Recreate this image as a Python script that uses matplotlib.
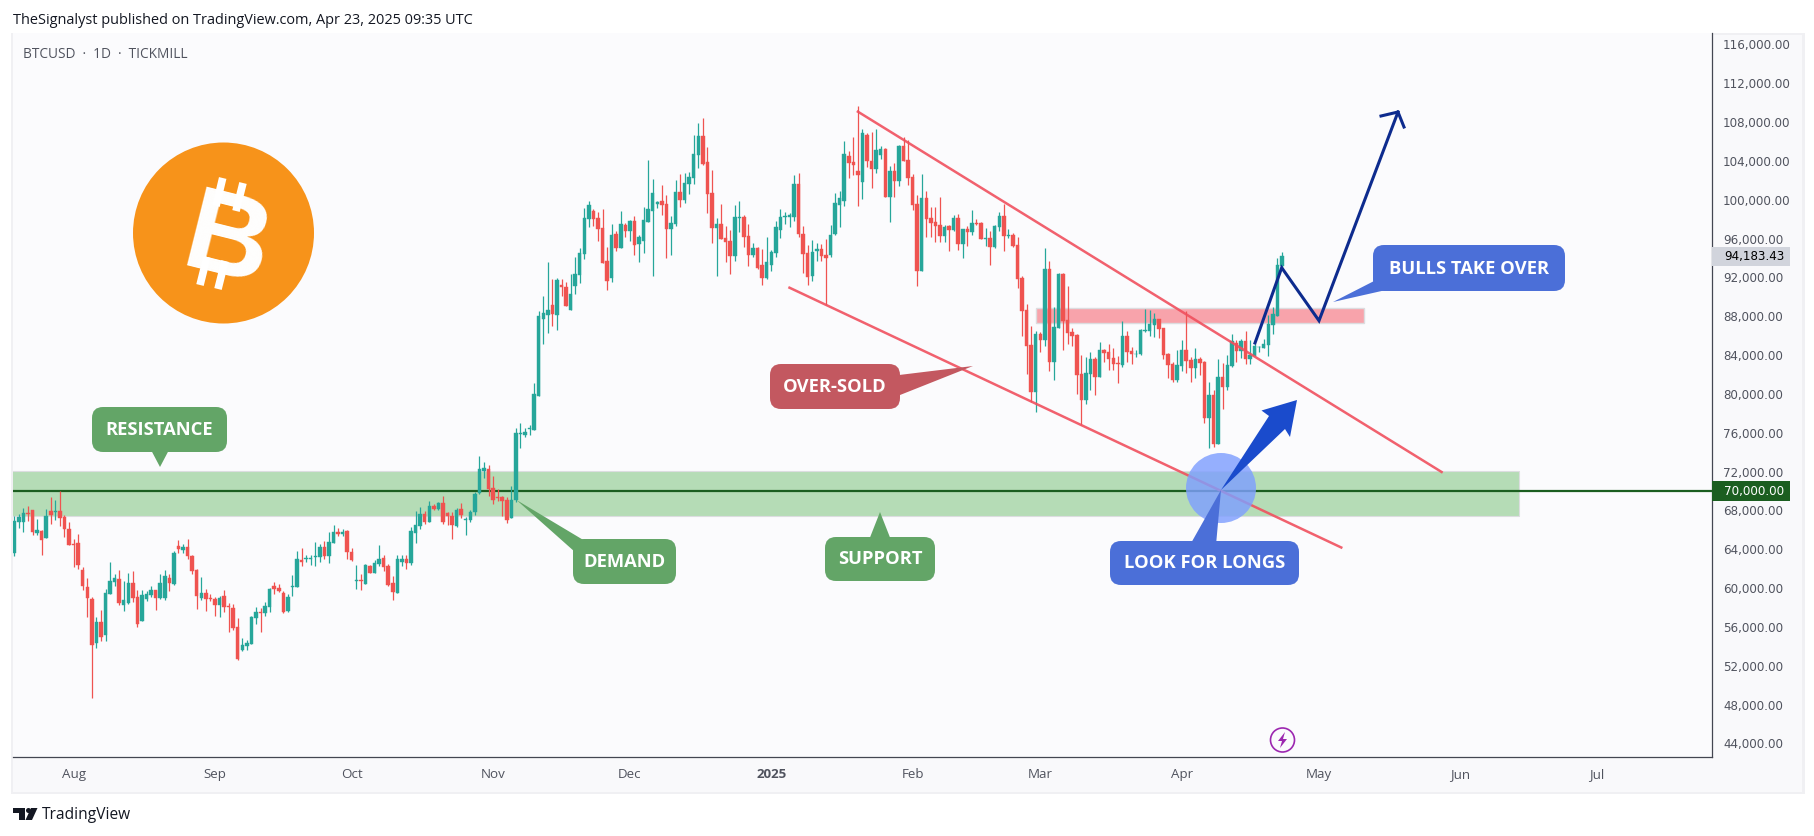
import matplotlib
matplotlib.use("Agg")
import matplotlib.pyplot as plt
import matplotlib.dates as mdates
import pandas as pd
from matplotlib.patches import Circle, FancyBboxPatch, Polygon, Rectangle

# BTCUSD daily candles (thousand USD)
first_day = "2024-07-19"
opens = [
    63.61,66.80,66.80,67.73,68.04,65.67,65.91,65.16,67.94,67.87,
    67.94,67.32,66.08,64.54,64.64,61.86,60.11,58.87,54.34,56.51,
    55.17,59.39,60.63,60.93,58.26,58.46,60.52,59.08,56.61,58.87,
    59.29,59.80,58.98,58.98,61.04,60.42,64.33,63.92,64.23,63.30,
    61.86,58.98,59.49,58.98,58.87,58.26,59.18,58.15,57.95,55.99,
    53.62,54.03,54.24,56.92,57.54,57.43,58.05,60.21,60.01,59.49,
    57.64,60.11,60.11,62.89,62.99,62.99,63.20,63.20,64.23,63.30,
    64.64,65.77,65.57,65.88,63.71,60.76,60.83,60.42,62.27,61.55,
    62.48,63.10,62.27,60.52,59.49,62.68,62.99,62.58,65.67,66.39,
    67.63,66.80,68.45,68.14,68.76,67.73,67.42,66.40,68.15,67.05,
    67.01,67.84,69.79,72.06,72.27,70.31,69.38,69.38,69.07,67.22,
    69.07,75.90,75.77,76.39,76.28,79.78,87.71,88.13,89.16,88.13,
    91.22,91.01,88.64,91.11,92.25,94.41,98.01,98.84,98.12,97.09,
    93.69,91.94,96.47,95.03,97.40,96.78,97.81,95.44,95.75,97.70,
    98.84,99.56,99.87,99.56,96.99,97.50,100.80,99.98,101.62,102.24,
    104.61,106.57,103.89,100.70,97.09,97.50,96.06,95.75,94.21,98.12,
    98.23,96.27,94.31,95.03,93.28,91.94,93.28,94.52,96.89,98.26,
    98.23,98.23,101.62,96.47,94.52,92.15,94.72,94.93,94.31,94.31,
    96.47,99.46,99.87,104.51,103.89,102.96,101.83,106.67,103.99,103.16,
    104.61,105.22,100.28,102.96,101.93,105.53,104.09,102.34,99.56,92.66,
    100.18,98.12,97.71,97.40,96.26,97.29,96.88,98.12,95.44,96.98,
    96.67,97.60,97.60,95.99,96.06,95.13,97.19,98.32,96.30,96.37,
    95.34,91.94,88.64,85.04,80.20,86.17,85.55,92.86,83.29,86.79,
    92.35,87.61,86.37,86.07,82.05,79.37,82.05,83.59,81.74,84.52,
    84.32,83.70,83.18,82.98,85.96,84.42,84.07,84.11,86.48,86.48,
    87.10,87.71,86.79,84.11,83.08,81.43,82.87,84.52,83.49,82.67,
    83.59,83.29,77.52,79.89,74.84,81.74,80.71,82.87,85.24,84.42,
    85.45,83.59,83.90,84.80,84.73,85.04,87.10,88.02,93.17,
]
highs = [
    67.42,67.63,68.25,68.45,68.04,67.11,65.98,68.14,69.38,69.10,
    69.96,67.53,66.80,65.05,65.57,62.17,61.04,59.08,57.02,57.74,
    59.90,62.68,61.45,61.86,60.73,61.55,61.76,59.80,59.80,59.70,
    60.21,59.80,61.45,61.86,61.45,63.82,64.95,64.54,65.05,63.41,
    61.96,61.14,59.90,59.39,59.08,59.18,59.80,58.46,58.36,56.92,
    54.86,54.65,57.12,58.05,57.95,58.57,60.01,60.63,60.42,59.70,
    59.39,61.35,63.82,64.13,63.41,63.41,64.74,64.54,64.85,65.77,
    66.50,66.19,66.08,65.98,64.13,62.38,61.45,62.48,62.38,62.89,
    64.44,63.41,62.48,61.24,63.41,63.41,63.41,66.29,67.94,68.35,
    67.94,68.97,68.66,68.86,69.48,67.84,67.84,68.25,68.76,67.32,
    68.04,69.90,73.60,72.99,72.68,71.55,70.21,69.49,69.38,70.52,
    76.49,77.00,76.49,76.80,81.12,88.54,90.08,93.58,91.83,91.94,
    91.83,91.52,92.35,94.10,95.03,99.15,99.87,99.04,98.73,99.04,
    95.13,97.50,96.78,98.84,97.60,97.91,98.32,96.37,99.25,104.09,
    102.13,99.87,101.52,100.49,98.33,102.04,102.65,102.76,102.86,106.67,
    107.91,108.42,105.43,103.07,98.12,99.56,97.30,96.89,99.46,99.87,
    98.43,97.50,95.55,95.14,94.93,96.17,94.83,97.81,99.05,98.74,
    98.64,102.55,102.76,97.30,95.34,95.86,95.55,95.44,95.96,97.40,
    100.70,100.90,106.05,105.02,106.46,109.66,107.29,106.88,106.98,107.28,
    105.53,105.33,103.47,103.78,105.64,106.46,106.15,102.65,100.49,102.65,
    100.90,99.25,99.25,100.28,97.40,97.40,98.43,98.53,96.98,97.29,
    98.94,98.01,97.71,97.09,96.78,97.40,98.74,99.56,96.98,96.57,
    96.16,92.14,89.26,87.00,86.48,86.37,95.03,93.69,88.95,92.45,
    92.45,91.11,86.79,86.17,84.01,83.80,84.32,83.80,85.34,84.62,
    85.14,84.73,83.90,87.51,86.48,84.83,84.52,86.68,88.74,88.64,
    88.33,87.71,86.79,84.21,83.29,84.52,85.55,88.54,83.80,84.73,
    83.80,83.39,81.23,80.40,83.59,83.18,84.01,86.17,85.55,85.65,
    86.48,85.55,85.14,84.93,85.65,88.13,88.95,94.00,94.62,
]
lows = [
    63.34,66.22,65.81,66.94,65.50,65.47,63.44,65.16,66.63,67.04,
    66.43,65.29,64.44,62.20,62.00,59.80,57.02,48.68,53.83,54.55,
    54.55,59.39,60.21,58.26,57.67,58.36,58.57,55.99,56.61,58.67,
    59.08,57.74,58.87,58.77,59.70,60.32,63.61,63.61,62.99,61.45,
    57.84,58.77,57.64,58.67,57.12,57.02,57.54,55.48,55.68,52.59,
    53.52,53.62,54.24,56.30,55.48,57.12,57.54,59.39,59.60,57.43,
    57.54,59.18,60.11,62.27,62.68,62.38,62.27,62.68,62.99,62.58,
    64.64,65.36,65.36,62.99,62.79,59.90,59.80,60.42,61.55,61.55,
    62.27,61.76,60.21,58.77,59.49,62.27,61.96,62.38,64.64,66.08,
    66.60,66.80,68.04,68.04,66.60,66.50,65.06,66.29,67.22,65.47,
    66.81,67.53,69.69,71.34,69.49,68.66,68.97,67.43,66.70,67.22,
    68.87,74.43,75.56,75.77,76.28,79.78,85.14,86.27,87.00,86.58,
    90.08,89.05,88.64,90.29,91.42,93.89,97.19,97.29,95.75,93.48,
    90.70,91.52,94.72,95.03,96.16,95.75,94.31,93.58,94.51,97.70,
    92.14,99.15,98.43,94.00,94.31,97.30,99.25,99.67,100.59,101.62,
    103.27,103.58,98.64,95.55,92.15,95.96,93.59,92.35,93.69,96.68,
    95.14,93.18,94.11,92.87,91.22,91.84,92.66,94.11,96.06,97.50,
    97.19,97.81,96.17,92.46,91.22,91.63,93.69,93.69,89.16,94.11,
    96.37,97.19,99.36,102.24,102.55,99.36,100.08,103.37,101.21,102.75,
    104.19,100.28,97.70,100.28,101.41,103.99,101.52,98.94,91.11,92.66,
    96.16,96.16,95.65,95.65,95.65,94.72,96.78,94.82,94.00,95.23,
    96.37,97.40,95.95,95.23,93.28,95.03,96.78,94.72,96.06,95.13,
    90.91,85.96,82.05,79.17,78.14,84.32,84.93,82.36,81.43,86.79,
    84.52,85.14,84.93,79.99,76.80,78.96,80.40,79.89,81.74,83.29,
    82.46,82.46,81.12,82.77,83.29,83.08,83.80,84.01,86.37,85.96,
    85.86,85.76,83.59,81.64,81.23,81.23,82.36,82.15,81.23,81.64,
    81.95,77.00,74.43,74.53,74.84,78.45,80.40,82.77,83.29,83.70,
    83.08,83.08,83.90,84.32,84.73,83.90,86.17,88.02,92.97,
]
closes = [
    66.91,67.35,67.77,67.66,65.77,65.98,64.95,67.42,67.53,67.94,
    67.22,66.08,64.44,64.47,62.38,60.21,58.98,54.14,56.51,54.96,
    59.49,60.73,61.04,58.46,58.77,60.52,58.98,56.30,59.29,59.39,
    59.80,58.98,60.52,61.24,60.52,63.61,64.02,64.23,63.30,61.76,
    59.18,59.49,58.87,58.91,58.26,58.98,58.05,58.08,55.89,52.71,
    54.14,54.34,57.02,57.54,57.47,58.15,59.90,59.90,59.70,57.54,
    59.08,60.21,62.99,62.68,63.06,63.06,63.30,64.23,63.30,64.74,
    65.77,65.57,65.77,63.71,62.89,60.83,60.76,62.38,61.55,62.58,
    62.99,62.17,60.32,59.59,62.99,62.99,62.58,65.88,66.50,67.63,
    66.80,68.45,68.14,68.76,66.81,67.42,66.50,68.04,67.53,67.12,
    67.84,69.69,72.27,72.37,70.21,69.07,69.28,68.97,67.01,69.07,
    75.97,75.97,76.08,76.45,79.99,88.02,88.33,88.64,88.23,91.73,
    91.01,89.05,90.29,92.35,94.51,98.12,99.46,98.01,96.98,93.48,
    91.63,96.37,95.03,97.50,96.78,97.81,95.34,96.16,97.91,99.04,
    100.69,99.76,99.46,96.99,97.61,100.80,99.98,101.73,102.34,104.71,
    106.57,103.68,100.59,97.09,97.50,95.96,95.65,94.21,98.23,98.23,
    96.17,94.31,95.03,92.97,91.94,93.59,94.62,97.20,98.23,98.33,
    98.43,101.62,96.47,94.41,92.05,94.62,94.93,94.21,94.00,96.37,
    99.67,100.18,104.71,103.79,103.58,102.55,106.88,103.99,103.17,105.12,
    105.22,100.28,102.96,101.93,105.53,103.99,102.24,99.46,92.66,100.18,
    98.01,97.60,97.29,96.26,97.19,96.88,98.12,95.44,96.98,96.67,
    97.60,97.50,95.95,96.06,95.13,97.29,98.32,96.26,96.37,95.23,
    91.84,88.54,84.93,80.20,86.17,85.55,92.86,83.29,86.89,92.35,
    87.51,86.27,85.96,81.95,79.37,82.15,83.59,81.74,84.52,84.21,
    83.59,83.08,83.08,85.96,84.32,84.11,84.14,86.58,86.58,87.20,
    87.71,86.68,84.01,82.98,81.43,82.98,84.52,83.39,82.67,83.59,
    83.18,77.52,79.89,74.84,81.74,80.71,82.98,85.45,84.42,85.45,
    83.59,84.01,84.93,84.86,85.14,87.20,88.23,93.28,94.18,
]

# axis labels
price_ticks = list(range(44, 117, 4))
price_labels = [f"{p},000.00" for p in price_ticks]
month_ticks = ["2024-08-01", "2024-09-01", "2024-10-01", "2024-11-01", "2024-12-01", "2025-01-01",
               "2025-02-01", "2025-03-01", "2025-04-01", "2025-05-01", "2025-06-01", "2025-07-01"]
month_labels = ["Aug", "Sep", "Oct", "Nov", "Dec", "2025", "Feb", "Mar", "Apr", "May", "Jun", "Jul"]

# drawings on the price chart
level_price = 70.0
last_price = "94,183.43"
level_label = "70,000.00"
demand_zone = (67.42, 72.06)
demand_zone_end = "2025-06-14"
supply_zone = (87.3, 88.85)
supply_zone_days = ("2025-02-28", "2025-05-11")
upper_days, upper_prices = ["2025-01-20", "2025-05-28"], [109.07, 71.96]
lower_days, lower_prices = ["2025-01-05", "2025-05-06"], [90.94, 64.18]

UI_FONT = "Open Sans"
GREY = "#50535e"
UP = "#26a69a"
DOWN = "#ef5350"
W, H = 1815, 836


def fx(x):
    return x / W


def fy(y):
    return 1 - y / H


fig = plt.figure(figsize=(W / 100, H / 100), dpi=100, facecolor="white")

# panes behind the chart
bg = fig.add_axes([0, 0, 1, 1], zorder=0)
bg.set_xlim(0, W)
bg.set_ylim(H, 0)
bg.axis("off")
bg.add_patch(Rectangle((11, 33), 1794, 761, fc="#f0f0f3", ec="none"))
bg.add_patch(Rectangle((13, 35), 1789, 757, fc="#f9f9fb", ec="none"))

ax = fig.add_axes([fx(13), fy(757), fx(1712 - 13), (757 - 33) / H], zorder=1)
ax.set_facecolor("#fbfbfd")

days = pd.date_range(first_day, periods=len(closes))
x = mdates.date2num(days)
x0 = x[0]
ax.set_xlim(x0 - 0.285, x0 + 372.3)
ax.set_ylim(70 - 266 * 0.103, 70 + 458 * 0.103)

# zones and level sit under the candles
zone_end = mdates.date2num(pd.Timestamp(demand_zone_end))
ax.add_patch(Rectangle((x0 - 1, demand_zone[0]), zone_end - x0 + 1, demand_zone[1] - demand_zone[0],
                       fc="#b5dcb6", ec="#dcdde0", lw=0.8, zorder=1))
s0, s1 = mdates.date2num(pd.to_datetime(list(supply_zone_days)))
ax.add_patch(Rectangle((s0, supply_zone[0]), s1 - s0, supply_zone[1] - supply_zone[0],
                       fc="#f8a3ab", ec="#dcdcdf", lw=1.0, zorder=1))
ax.axhline(level_price, color="#1b5e20", lw=1.6, zorder=2)

colors = [UP if c >= o else DOWN for o, c in zip(opens, closes)]
ax.vlines(x, lows, highs, colors=colors, lw=0.9, zorder=3)
ax.bar(x, [abs(c - o) for o, c in zip(opens, closes)], bottom=[min(o, c) for o, c in zip(opens, closes)],
       width=0.76, color=colors, edgecolor=colors, lw=0.3, zorder=3)

ax.plot(pd.to_datetime(upper_days), upper_prices, color="#f0505e", lw=1.8, alpha=0.9, zorder=4)
ax.plot(pd.to_datetime(lower_days), lower_prices, color="#f0505e", lw=1.8, alpha=0.9, zorder=4)

ax.yaxis.tick_right()
ax.set_yticks(price_ticks)
ax.set_yticklabels(price_labels, fontfamily="DejaVu Sans", fontsize=8.6, color=GREY)
ax.set_xticks(mdates.date2num(pd.to_datetime(month_ticks)))
ax.set_xticklabels(month_labels, fontfamily=UI_FONT, fontsize=9.6, color=GREY)
ax.get_xticklabels()[5].set_fontweight("bold")
ax.tick_params(axis="both", length=0)
ax.tick_params(axis="y", pad=8)
ax.tick_params(axis="x", pad=8)
for side in ["left", "top"]:
    ax.spines[side].set_visible(False)
for side in ["right", "bottom"]:
    ax.spines[side].set_color("#434651")
    ax.spines[side].set_linewidth(0.9)

# everything drawn in picture pixels goes on top
top = fig.add_axes([0, 0, 1, 1], zorder=2)
top.set_xlim(0, W)
top.set_ylim(H, 0)
top.axis("off")
top.patch.set_alpha(0)


def callout(x0_, y0_, x1_, y1_, pointer, color, label):
    top.add_patch(Polygon(pointer, closed=True, fc=color, ec="none", zorder=5))
    top.add_patch(FancyBboxPatch((x0_, y0_), x1_ - x0_, y1_ - y0_, boxstyle="round,pad=0,rounding_size=11",
                                 fc=color, ec="none", zorder=5))
    top.text((x0_ + x1_) / 2, (y0_ + y1_) / 2 + 0.5, label, color="white", fontfamily=UI_FONT,
             fontweight="bold", fontsize=13.2, ha="center", va="center", zorder=6)


# highlight circle and big arrow
top.add_patch(Circle((1221, 488), 35, fc="#7f9fff", ec="none", alpha=0.82, zorder=3))
callout(1110, 541, 1299, 585, [(1190, 545), (1216, 545), (1221, 490)], "#4b6fd8", "LOOK FOR LONGS")
top.add_patch(Polygon([(1221, 490), (1269, 416), (1261.5, 410.5), (1297, 400), (1290, 437), (1285, 429)],
                      closed=True, fc="#1a4bcc", ec="none", zorder=4))

callout(92, 407, 227, 452, [(150, 448), (170, 448), (160, 467)], "#63a567", "RESISTANCE")
callout(573, 539, 676, 584, [(516.5, 500), (585, 541), (575, 552)], "#63a567", "DEMAND")
callout(825, 537, 935, 581, [(869, 540), (891, 540), (880, 512)], "#63a567", "SUPPORT")
callout(770, 364, 900, 409, [(895, 375.5), (973, 366), (895, 397)], "#c35860", "OVER-SOLD")
callout(1373, 245, 1565, 291, [(1378, 279), (1333, 302), (1386, 290)], "#4b6fd8", "BULLS TAKE OVER")

# projected path
top.plot([1255, 1281.7, 1319, 1398], [343, 267.7, 320.7, 112], color="#0d2b8e", lw=2.2, zorder=5,
         solid_joinstyle="miter")
top.plot([1381, 1398, 1404], [116, 112, 127], color="#0d2b8e", lw=2.2, zorder=5, solid_joinstyle="miter")

# price tags on the axis
top.add_patch(Rectangle((1712.5, 247), 77.5, 19, fc="#d1d4dc", ec="none", zorder=5))
top.text(1724, 256.5, last_price, color="black", fontfamily="DejaVu Sans", fontsize=8.6, va="center", zorder=6)
top.add_patch(Rectangle((1712.5, 481), 77.5, 20, fc="#1b5e20", ec="none", zorder=5))
top.text(1724, 491, level_label, color="white", fontfamily="DejaVu Sans", fontsize=8.6, va="center", zorder=6)

# bitcoin logo
top.add_patch(Circle((223.5, 233), 90.5, fc="#f7931a", ec="none", zorder=3))
for (a, b), (c, d) in [((222.7, 178), (216, 206)), ((243, 183), (236, 211)), ((200, 285), (207, 257)), ((218, 289), (225, 261))]:
    top.plot([a, c], [b, d], color="white", lw=5.5, solid_capstyle="butt", zorder=4)
top.text(229.5, 234, "B", color="white", fontfamily="Liberation Sans", fontweight="bold", fontsize=84,
         rotation=-14, rotation_mode="anchor", ha="center", va="center_baseline", zorder=4)

# power icon at the bottom of the chart
top.add_patch(Circle((1282.5, 740), 12, fc="none", ec="#9c27b0", lw=1.2, zorder=4))
top.add_patch(Polygon([(1285, 732), (1278, 741), (1282, 741), (1280, 748), (1287, 739), (1283, 739)],
                      closed=True, fc="#9c27b0", ec="none", zorder=4))

# header and footer
top.text(13, 20, "TheSignalyst published on TradingView.com, Apr 23, 2025 09:35 UTC", color="#131722",
         fontfamily=UI_FONT, fontsize=10.45, va="center")
top.text(23, 54, "BTCUSD  ·  1D  ·  TICKMILL", color=GREY, fontfamily=UI_FONT, fontsize=9.8, va="center")
top.add_patch(Polygon([(13, 808), (25, 808), (25, 820), (19, 820), (19, 813), (13, 813)], fc="#131722", ec="none"))
top.add_patch(Circle((28.5, 810.5), 2.5, fc="#131722", ec="none"))
top.add_patch(Polygon([(31, 808), (37.5, 808), (32, 820), (25.5, 820)], fc="#131722", ec="none"))
top.text(42, 815, "TradingView", color="#131722", fontfamily=UI_FONT, fontsize=11.2, va="center")

fig.savefig("out.png", dpi=100)
